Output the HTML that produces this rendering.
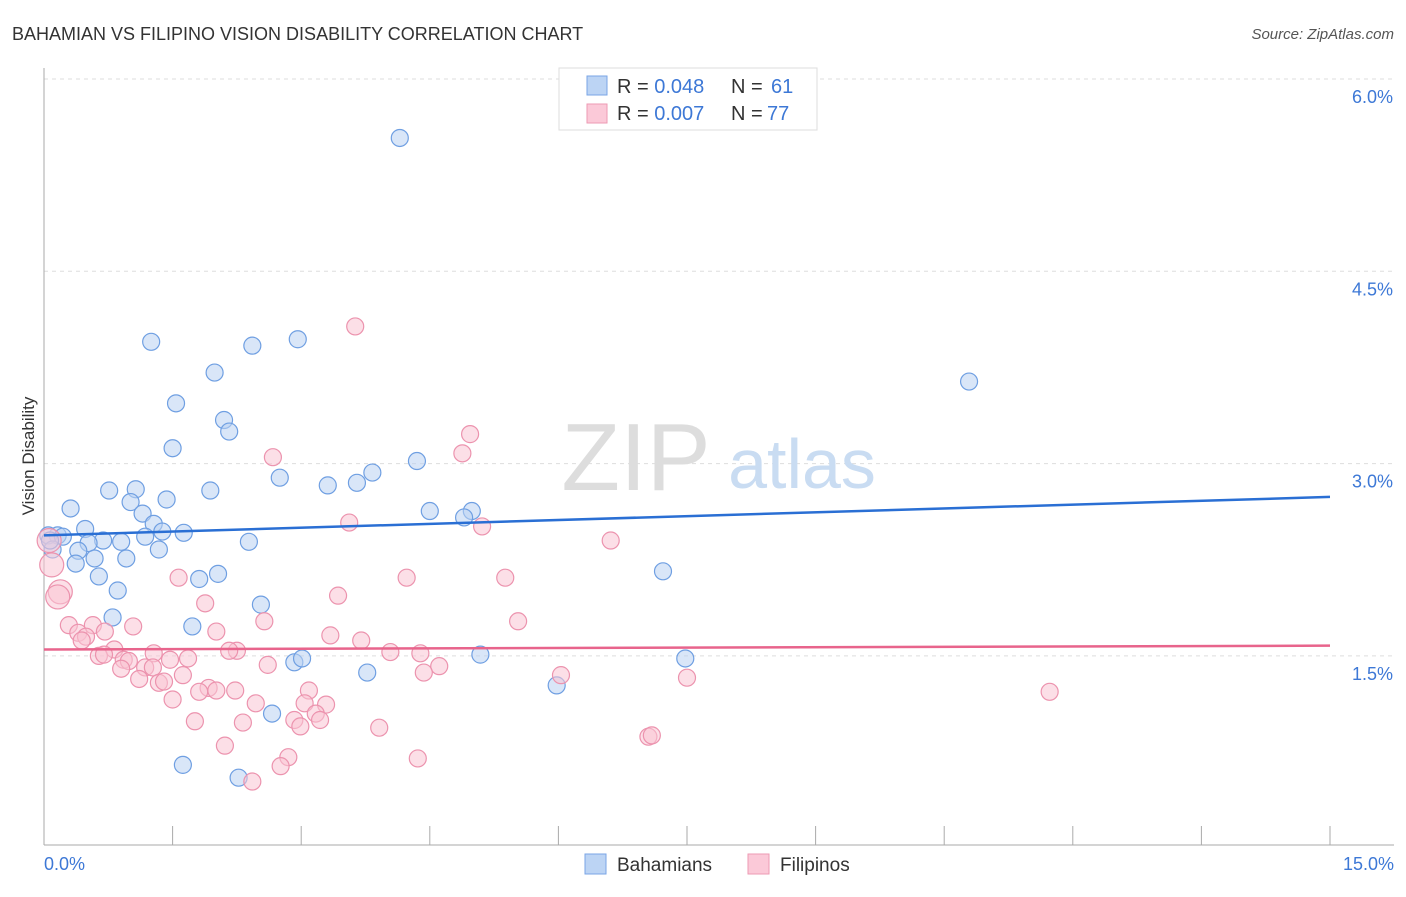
<!DOCTYPE html>
<html><head><meta charset="utf-8"><style>
body{margin:0;background:#fff;font-family:"Liberation Sans",sans-serif;}
svg text{font-family:"Liberation Sans",sans-serif;}
</style></head><body>
<svg id="chart" width="1406" height="892" viewBox="0 0 1406 892" xmlns="http://www.w3.org/2000/svg">
<text x="12" y="40" font-size="18" fill="#333">BAHAMIAN VS FILIPINO VISION DISABILITY CORRELATION CHART</text>
<text x="1394" y="39" font-size="15" fill="#555" text-anchor="end" font-style="italic">Source: ZipAtlas.com</text>
<g id="grid"></g>
<g>
<text x="636" y="490" font-size="96" fill="#ddd" text-anchor="middle" font-family="Liberation Serif, serif">ZIP</text>
<text x="802" y="488" font-size="70" fill="#c9dcf2" text-anchor="middle">atlas</text>
</g>
<g id="axes"></g>
<g id="pts"></g>
<g id="trends"></g>
<text transform="translate(34,456) rotate(-90)" font-size="17" fill="#333" text-anchor="middle">Vision Disability</text>
<g>
<rect x="559" y="68" width="258" height="62" fill="#fff" stroke="#ddd"/>
<rect x="587" y="76" width="20" height="19" fill="#bcd4f4" stroke="#7aa5e6"/>
<rect x="587" y="104" width="20" height="19" fill="#fbc9d8" stroke="#ee9ab3"/>
<text x="617" y="93" font-size="20" fill="#333">R = <tspan fill="#3d78d6">0.048</tspan><tspan x="731">N = </tspan><tspan fill="#3d78d6" x="771">61</tspan></text>
<text x="617" y="120" font-size="20" fill="#333">R = <tspan fill="#3d78d6">0.007</tspan><tspan x="731">N = </tspan><tspan fill="#3d78d6" x="767">77</tspan></text>
</g>
<g>
<rect x="585" y="854" width="21" height="20" fill="#bcd4f4" stroke="#7aa5e6"/>
<text x="617" y="871" font-size="19" fill="#333">Bahamians</text>
<rect x="748" y="854" width="21" height="20" fill="#fbc9d8" stroke="#ee9ab3"/>
<text x="780" y="871" font-size="19" fill="#333">Filipinos</text>
</g>
</svg>
<script>
const xTicks=[0,1.5,3,4.5,6,7.5,9,10.5,12,13.5,15];
const yTicks=[1.5,3.0,4.5,6.0];
const yTickLabels=["1.5%","3.0%","4.5%","6.0%"];
const xEndLabels=["0.0%","15.0%"];
const bahX=[4.15,1.25,2.96,2.43,1.99,10.79,1.54,2.10,2.16,1.50,4.35,3.83,2.75,3.31,3.65,0.76,1.07,1.94,1.43,1.01,0.31,1.15,4.50,4.99,4.90,1.28,0.48,1.38,1.63,0.16,0.05,0.22,1.18,0.69,0.90,0.52,2.39,0.40,1.34,0.10,0.59,0.96,0.37,7.22,0.64,2.03,1.81,0.86,2.53,0.80,1.73,2.92,3.01,5.09,7.48,3.77,5.98,2.66,1.62,2.27,0.07];
const bahY=[5.54,3.95,3.97,3.92,3.71,3.64,3.47,3.34,3.25,3.12,3.02,2.93,2.89,2.83,2.85,2.79,2.80,2.79,2.72,2.70,2.65,2.61,2.63,2.63,2.58,2.53,2.49,2.47,2.46,2.44,2.44,2.43,2.43,2.40,2.39,2.38,2.39,2.32,2.33,2.33,2.26,2.26,2.22,2.16,2.12,2.14,2.10,2.01,1.90,1.80,1.73,1.45,1.48,1.51,1.48,1.37,1.27,1.05,0.65,0.55,2.40];
const filX=[3.63,4.97,2.67,4.88,3.56,5.11,6.61,0.06,0.09,1.57,4.23,5.38,0.19,0.16,3.43,1.88,5.53,2.57,0.29,0.57,1.04,0.40,0.49,2.01,3.34,3.70,0.44,0.82,2.25,2.16,4.04,4.39,1.28,0.64,0.70,0.93,0.99,1.68,1.47,1.18,2.61,4.61,0.90,1.27,1.62,4.43,6.03,7.50,1.11,1.34,1.40,3.09,1.92,2.23,2.01,1.81,11.73,1.50,2.47,3.04,3.29,3.17,1.76,2.32,2.92,3.22,2.99,3.91,2.11,7.05,7.09,2.85,4.36,2.76,2.43,0.71];
const filY=[4.07,3.23,3.05,3.08,2.54,2.51,2.40,2.40,2.21,2.11,2.11,2.11,2.00,1.96,1.97,1.91,1.77,1.77,1.74,1.74,1.73,1.68,1.65,1.69,1.66,1.62,1.62,1.55,1.54,1.54,1.53,1.52,1.52,1.50,1.51,1.47,1.46,1.48,1.47,1.41,1.43,1.42,1.40,1.41,1.35,1.37,1.35,1.33,1.32,1.29,1.30,1.23,1.25,1.23,1.23,1.22,1.22,1.16,1.13,1.13,1.12,1.05,0.99,0.98,1.00,1.00,0.95,0.94,0.80,0.87,0.88,0.71,0.70,0.64,0.52,1.69];
const bahTrend=[2.44,2.74];
const filTrend=[1.55,1.58];
const NS="http://www.w3.org/2000/svg";
const X=v=>44+v*(1286/15);
const Y=v=>79+(6-v)*128.2;
function mk(tag,attrs,parent){const e=document.createElementNS(NS,tag);for(const k in attrs)e.setAttribute(k,attrs[k]);parent.appendChild(e);return e;}
const grid=document.getElementById('grid'),axes=document.getElementById('axes'),pts=document.getElementById('pts'),tr=document.getElementById('trends');
yTicks.forEach((t,i)=>{
 const l=mk('line',{x1:44,x2:1394,y1:Y(t),y2:Y(t),stroke:'#ddd','stroke-dasharray':'4,4'},grid);
 
 
 const tx=mk('text',{x:1393,y:Y(t)+24,'font-size':18,fill:'#3d78d6','text-anchor':'end'},axes);
 tx.textContent=yTickLabels[i];
 
 
});
mk('line',{x1:44,x2:44,y1:68,y2:845,stroke:'#aaa'},axes);
mk('line',{x1:44,x2:1394,y1:845,y2:845,stroke:'#aaa'},axes);
xTicks.forEach(t=>{
 const l=mk('line',{x1:X(t),x2:X(t),y1:826,y2:845,stroke:'#aaa'},axes);
 
 
});
const xl0=mk('text',{x:44,y:870,'font-size':18,fill:'#3d78d6'},axes);xl0.textContent=xEndLabels[0];


const xl1=mk('text',{x:1394,y:870,'font-size':18,fill:'#3d78d6','text-anchor':'end'},axes);xl1.textContent=xEndLabels[1];


function series(xs,ys,fill,stroke,name){
 xs.forEach((x,i)=>{
  const big = x<0.2 && name==='filipino';
  const c=mk('circle',{cx:X(x),cy:Y(ys[i]),r:big?12:8.5,fill:fill,'fill-opacity':0.55,stroke:stroke,'stroke-width':1.2},pts);
  
  
 });
}
series(bahX,bahY,'#b9d2f3','#6f9fe2','bahamian');
series(filX,filY,'#f9c4d4','#ec93ae','filipino');
const t1=mk('line',{x1:X(0),x2:X(15),y1:Y(bahTrend[0]),y2:Y(bahTrend[1]),stroke:'#2a6fd4','stroke-width':2.5},tr);


const t2=mk('line',{x1:X(0),x2:X(15),y1:Y(filTrend[0]),y2:Y(filTrend[1]),stroke:'#e8648c','stroke-width':2.5},tr);


</script>
</body></html>
